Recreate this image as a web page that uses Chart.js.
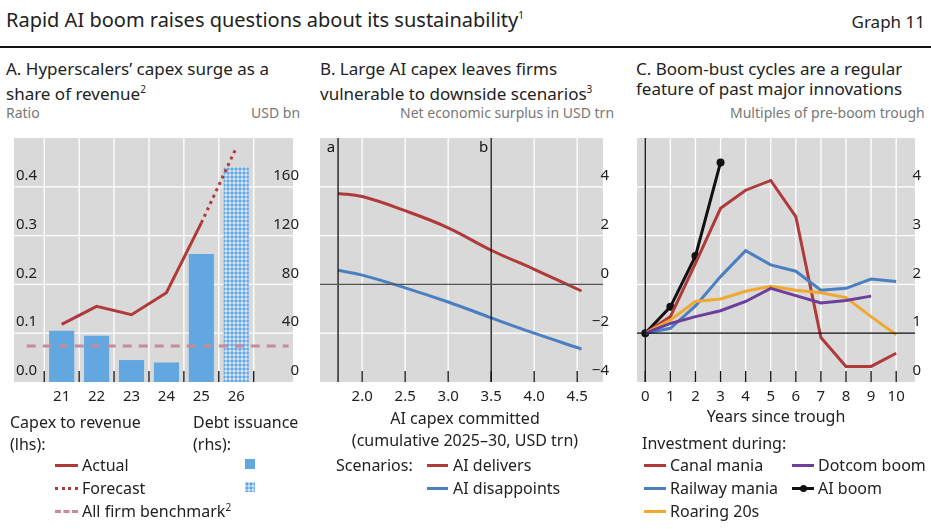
<!DOCTYPE html>
<html>
<head>
<meta charset="utf-8">
<script src="https://cdn.jsdelivr.net/npm/chart.js@4"></script>
<style>
  body { margin: 0; width: 931px; height: 529px; background: #fff; position: relative; overflow: hidden;
         font-family: "Noto Sans", sans-serif; color: #222; }
  .t { position: absolute; white-space: nowrap; }
  .unit { color: #777; font-size: 14px; }
  .pt { font-size: 17px; line-height: 20px; }
  .lg { font-size: 16px; }
  .sw { position: absolute; height: 0; }
  canvas { position: absolute; }
  sup { font-size: 10px; }
</style>
</head>
<body>
<div class="t" style="left:6px;top:6px;font-size:20px;">Rapid AI boom raises questions about its sustainability<sup>1</sup></div>
<div class="t" style="right:6px;top:10px;font-size:17px;">Graph 11</div>
<div style="position:absolute;left:0;top:46px;width:931px;height:2px;background:#111;"></div>

<div class="t pt" style="left:6px;top:59px;">A. Hyperscalers’ capex surge as a<br>share of revenue<sup>2</sup></div>
<div class="t pt" style="left:320px;top:59px;">B. Large AI capex leaves firms<br>vulnerable to downside scenarios<sup>3</sup></div>
<div class="t pt" style="left:636px;top:59px;">C. Boom-bust cycles are a regular<br>feature of past major innovations</div>

<div class="t unit" style="left:6px;top:103px;">Ratio</div>
<div class="t unit" style="left:251px;top:103px;">USD bn</div>
<div class="t unit" style="left:400px;top:103px;">Net economic surplus in USD trn</div>
<div class="t unit" style="left:730px;top:103px;">Multiples of pre-boom trough</div>

<div style="position:absolute;left:10px;top:123px;width:295px;height:289px;"><canvas id="cA"></canvas></div>
<div style="position:absolute;left:320px;top:123px;width:295px;height:289px;"><canvas id="cB"></canvas></div>
<div style="position:absolute;left:633px;top:123px;width:294px;height:289px;"><canvas id="cC"></canvas></div>

<!-- Panel A legend -->
<div class="t lg" style="left:10px;top:411px;line-height:22px;">Capex to revenue<br>(lhs):</div>
<div class="t lg" style="left:193px;top:411px;line-height:22px;">Debt issuance<br>(rhs):</div>
<div class="sw" style="left:55px;top:464px;width:23px;border-top:3px solid #b03a3a;"></div>
<div class="t lg" style="left:82px;top:454px;">Actual</div>
<div class="sw" style="left:55px;top:487px;width:23px;border-top:3px dotted #b03a3a;"></div>
<div class="t lg" style="left:82px;top:477px;">Forecast</div>
<div class="sw" style="left:55px;top:510px;width:23px;border-top:3px dashed #c68a9a;"></div>
<div class="t lg" style="left:82px;top:500px;">All firm benchmark<sup>2</sup></div>
<div style="position:absolute;left:245px;top:459px;width:10px;height:10px;background:#62a7e0;"></div>
<canvas id="swHatch" width="10" height="10" style="left:245px;top:482px;"></canvas>

<!-- Panel B legend -->
<div class="t lg" style="left:330px;top:407px;width:270px;text-align:center;line-height:22px;">AI capex committed<br>(cumulative 2025–30, USD trn)</div>
<div class="t lg" style="left:336px;top:454px;">Scenarios:</div>
<div class="sw" style="left:427px;top:464px;width:21px;border-top:3px solid #b03a3a;"></div>
<div class="t lg" style="left:453px;top:454px;">AI delivers</div>
<div class="sw" style="left:427px;top:487px;width:21px;border-top:3px solid #4a7fc1;"></div>
<div class="t lg" style="left:453px;top:477px;">AI disappoints</div>

<!-- Panel C legend -->
<div class="t lg" style="left:636px;top:405px;width:280px;text-align:center;">Years since trough</div>
<div class="t lg" style="left:642px;top:432px;">Investment during:</div>
<div class="sw" style="left:644px;top:464px;width:22px;border-top:3px solid #b03a3a;"></div>
<div class="t lg" style="left:670px;top:454px;">Canal mania</div>
<div class="sw" style="left:644px;top:487px;width:22px;border-top:3px solid #4a7fc1;"></div>
<div class="t lg" style="left:670px;top:477px;">Railway mania</div>
<div class="sw" style="left:644px;top:510px;width:22px;border-top:3px solid #f0a830;"></div>
<div class="t lg" style="left:670px;top:500px;">Roaring 20s</div>
<div class="sw" style="left:792px;top:464px;width:22px;border-top:3px solid #6b3f9a;"></div>
<div class="t lg" style="left:818px;top:454px;">Dotcom boom</div>
<div class="sw" style="left:792px;top:487px;width:22px;border-top:3px solid #111;"></div>
<div style="position:absolute;left:800px;top:485px;width:7px;height:7px;border-radius:50%;background:#111;"></div>
<div class="t lg" style="left:818px;top:477px;">AI boom</div>

<script>
// ---------- data ----------
// Panel A
const yearsA = [21, 22, 23, 24, 25, 26];
const debtIssuance = [42, 38, 18, 16, 105, 176];       // USD bn, rhs
const capexActual = [0.118, 0.155, 0.138, 0.183, 0.326]; // 21-25
const capexForecast = [0.326, 0.48];                      // 25-26
const benchmark = 0.074;

// Panel B
const capexB = [1.72, 2.0, 2.5, 3.0, 3.5, 4.0, 4.55];
const aiDelivers = [3.73, 3.6, 3.02, 2.32, 1.4, 0.62, -0.27];
const aiDisappoints = [0.58, 0.38, -0.14, -0.72, -1.37, -2.0, -2.65];
const ticksB = [2.0, 2.5, 3.0, 3.5, 4.0, 4.5];
const lineA = 1.72, lineB = 3.5;

// Panel C
const yearsC = [0, 1, 2, 3, 4, 5, 6, 7, 8, 9, 10];
const canal = [1, 1.34, 2.43, 3.56, 3.93, 4.13, 3.39, 0.91, 0.32, 0.32, 0.59];
const railway = [1, 1.1, 1.56, 2.16, 2.69, 2.4, 2.27, 1.88, 1.92, 2.11, 2.06];
const roaring = [1, 1.27, 1.65, 1.7, 1.86, 1.96, 1.88, 1.83, 1.73, 1.34, 0.97];
const dotcom = [1, 1.2, 1.34, 1.46, 1.65, 1.92, 1.77, 1.62, 1.67, 1.76];
const aiBoom = [1, 1.54, 2.58, 4.5];

const RED = '#b03a3a', BLUE = '#4a7fc1', BARBLUE = '#62a7e0';
const FONT = { family: '"Noto Sans", sans-serif', size: 15 };
Chart.defaults.font = FONT;
Chart.defaults.color = '#222';
Chart.defaults.animation = false;
Chart.defaults.maintainAspectRatio = false;

function hatch() {
  const c = document.createElement('canvas');
  c.width = 4; c.height = 4;
  const g = c.getContext('2d');
  g.fillStyle = '#d2e6f7'; g.fillRect(0, 0, 4, 4);
  g.fillStyle = '#63a6e2';
  g.beginPath(); g.moveTo(2, 0); g.lineTo(4, 2); g.lineTo(2, 4); g.lineTo(0, 2); g.fill();
  return c;
}
const hatchCanvas = hatch();
const sw = document.getElementById('swHatch').getContext('2d');
sw.fillStyle = sw.createPattern(hatchCanvas, 'repeat'); sw.fillRect(0, 0, 10, 10);

function xy(xs, ys) { return ys.map((v, i) => ({ x: xs[i], y: v })); }
const fixTicks = vals => scale => { scale.ticks = vals.map(v => ({ value: v })); };

// gray background, grid and marker lines drawn through the chart's scales
function panelPlugin(opts) {
  return {
    id: 'panel',
    beforeDraw(chart) {
      const { ctx, chartArea: a } = chart;
      ctx.save();
      ctx.fillStyle = '#d9d9d9';
      ctx.fillRect(a.left, a.top, a.right - a.left, a.bottom - a.top);
      const xs = chart.scales.x, ys = chart.scales.y;
      ctx.strokeStyle = '#fff'; ctx.lineWidth = 1.3;
      (opts.vgrid || []).forEach(v => {
        const px = xs.getPixelForValue(v);
        ctx.beginPath(); ctx.moveTo(px, a.top); ctx.lineTo(px, a.bottom); ctx.stroke();
      });
      (opts.hgrid || []).forEach(v => {
        const py = ys.getPixelForValue(v);
        ctx.beginPath(); ctx.moveTo(a.left, py); ctx.lineTo(a.right, py); ctx.stroke();
      });
      ctx.restore();
    },
    afterDatasetsDraw(chart) {
      const { ctx, chartArea: a } = chart;
      const xs = chart.scales.x, ys = chart.scales.y;
      ctx.save();
      ctx.strokeStyle = '#111'; ctx.lineWidth = 1.3;
      (opts.ticks || []).forEach(v => {
        const px = xs.getPixelForValue(v);
        ctx.beginPath(); ctx.moveTo(px, a.bottom - 11); ctx.lineTo(px, a.bottom); ctx.stroke();
      });
      (opts.vblack || []).forEach(v => {
        const px = xs.getPixelForValue(v.x);
        ctx.beginPath(); ctx.moveTo(px, a.top); ctx.lineTo(px, a.bottom); ctx.stroke();
        if (v.label) {
          ctx.fillStyle = '#111'; ctx.font = '15px ' + FONT.family;
          ctx.textAlign = 'right'; ctx.textBaseline = 'top';
          ctx.fillText(v.label, px - 3, a.top + 2);
        }
      });
      if (opts.hblack !== undefined) {
        const py = ys.getPixelForValue(opts.hblack);
        ctx.strokeStyle = opts.hblackColor || '#111';
        ctx.beginPath(); ctx.moveTo(a.left, py); ctx.lineTo(a.right, py); ctx.stroke();
      }
      ctx.restore();
    }
  };
}

function yAxis(pos, min, max, step, cb) {
  return {
    position: pos, min: min, max: max,
    grid: { display: false, drawTicks: false }, border: { display: false },
    ticks: { stepSize: step, mirror: true, padding: pos === 'left' ? 2 : 6, labelOffset: -11, font: FONT, callback: cb }
  };
}

function xAxis(min, max, vals, cb) {
  return {
    type: 'linear', min: min, max: max,
    grid: { display: false, drawTicks: false }, border: { display: false },
    afterBuildTicks: fixTicks(vals),
    ticks: { padding: 6, font: FONT, autoSkip: false, maxRotation: 0, callback: cb }
  };
}

// ---------- Panel A ----------
const ctxA = document.getElementById('cA').getContext('2d');
new Chart(ctxA, {
  type: 'bar',
  data: {
    datasets: [
      { type: 'line', data: [{ x: 20, y: benchmark }, { x: 27.5, y: benchmark }],
        borderColor: '#c68a9a', borderWidth: 3, borderDash: [9, 7], pointRadius: 0, yAxisID: 'y', order: 0 },
      { type: 'line', data: xy(yearsA.slice(0, 5), capexActual), borderColor: RED, borderWidth: 3,
        pointRadius: 0, yAxisID: 'y', order: 0 },
      { type: 'line', data: xy(yearsA.slice(4), capexForecast), borderColor: RED, borderWidth: 3,
        borderDash: [3, 4], pointRadius: 0, yAxisID: 'y', order: 0 },
      { type: 'bar', data: xy(yearsA, debtIssuance), yAxisID: 'y2', order: 1,
        backgroundColor: yearsA.map((y, i) => i === 5 ? ctxA.createPattern(hatchCanvas, 'repeat') : BARBLUE),
        barPercentage: 0.72, categoryPercentage: 1 }
    ]
  },
  options: {
    layout: { padding: 0 },
    plugins: { legend: { display: false }, tooltip: { enabled: false } },
    scales: {
      x: xAxis(20.3, 26.96, yearsA, v => v),
      y: yAxis('left', 0, 0.5, 0.1, v => v < 0.45 ? v.toFixed(1) : ''),
      y2: yAxis('right', 0, 200, 40, v => v < 180 ? v : '')
    }
  },
  plugins: [panelPlugin({ vgrid: [20.5, 21.5, 22.5, 23.5, 24.5, 25.5, 26.5], hgrid: [0.1, 0.2, 0.3, 0.4],
                          ticks: [20.5, 21.5, 22.5, 23.5, 24.5, 25.5, 26.5] })]
});

// ---------- Panel B ----------
new Chart(document.getElementById('cB'), {
  type: 'scatter',
  data: {
    datasets: [
      { data: xy(capexB, aiDelivers), showLine: true, borderColor: RED, borderWidth: 3, pointRadius: 0, tension: 0.4 },
      { data: xy(capexB, aiDisappoints), showLine: true, borderColor: BLUE, borderWidth: 3, pointRadius: 0, tension: 0.4 }
    ]
  },
  options: {
    layout: { padding: 0 },
    plugins: { legend: { display: false }, tooltip: { enabled: false } },
    scales: {
      x: xAxis(1.51, 4.8, ticksB, v => v.toFixed(1)),
      y: yAxis('right', -4, 6, 2, v => v > 5 ? '' : (v < 0 ? '\u2212' + Math.abs(v) : v))
    }
  },
  plugins: [panelPlugin({ vgrid: ticksB, hgrid: [-2, 2, 4], ticks: ticksB,
                          vblack: [{ x: lineA, label: 'a' }, { x: lineB, label: 'b' }], hblack: 0, hblackColor: '#555' })]
});

// ---------- Panel C ----------
new Chart(document.getElementById('cC'), {
  type: 'scatter',
  data: {
    datasets: [
      { data: xy(yearsC, dotcom), showLine: true, borderColor: '#6b3f9a', borderWidth: 3, pointRadius: 0 },
      { data: xy(yearsC, roaring), showLine: true, borderColor: '#f0a830', borderWidth: 3, pointRadius: 0 },
      { data: xy(yearsC, railway), showLine: true, borderColor: BLUE, borderWidth: 3, pointRadius: 0 },
      { data: xy(yearsC, canal), showLine: true, borderColor: RED, borderWidth: 3, pointRadius: 0 },
      { data: xy(yearsC, aiBoom), showLine: true, borderColor: '#111', borderWidth: 3,
        pointRadius: 4, pointBackgroundColor: '#111', pointBorderWidth: 0 }
    ]
  },
  options: {
    layout: { padding: 0 },
    plugins: { legend: { display: false }, tooltip: { enabled: false } },
    scales: {
      x: xAxis(-0.33, 10.75, yearsC, v => v),
      y: yAxis('right', 0, 5, 1, v => v < 5 ? v : '')
    }
  },
  plugins: [panelPlugin({ vgrid: yearsC, hgrid: [2, 3, 4], ticks: yearsC,
                          vblack: [{ x: 0 }], hblack: 1 })]
});
</script>
</body>
</html>
